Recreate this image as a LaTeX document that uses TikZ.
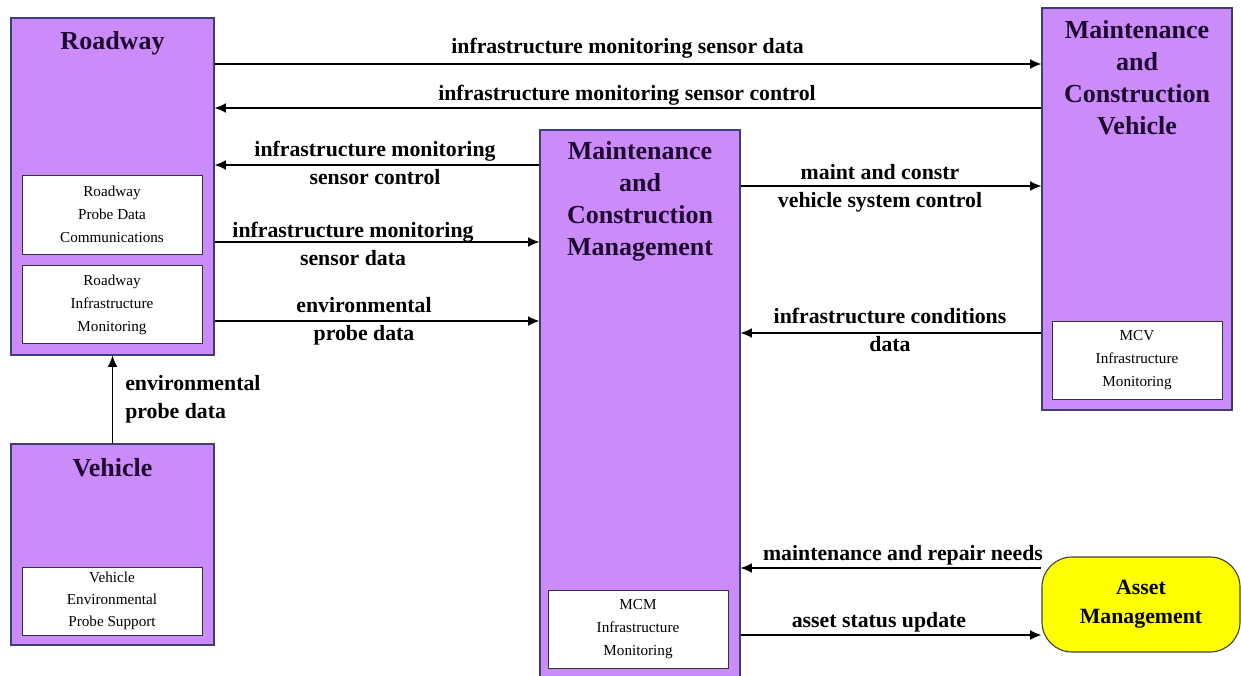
\documentclass[tikz,border=0pt]{standalone}
\usepackage{fontspec}
\setmainfont{Liberation Serif}
\usepackage{xcolor}
\usepackage{tikz}
\usetikzlibrary{arrows.meta,positioning,calc}
\definecolor{purplebg}{HTML}{CB8CFA}
\definecolor{purpleln}{HTML}{3C3C78}
\definecolor{titletx}{HTML}{1E0530}
\definecolor{assetbg}{HTML}{FFFF00}
\tikzset{
  sys/.style   = {draw=purpleln, fill=purplebg, line width=0.8pt, inner sep=0pt},
  sub/.style   = {draw=black!80, fill=white, line width=0.6pt, align=center, inner sep=0pt,
                  minimum width=4.5cm, font=\fontsize{10.8}{16.3}\selectfont},
  ttl/.style   = {align=center, text=titletx, inner sep=0pt,
                  font=\bfseries\fontsize{18.5}{22.7}\selectfont},
  ar/.style    = {-{Latex[length=2.8mm,width=2.4mm]}, line width=0.8pt},
  lbl/.style   = {align=center, inner sep=0pt, font=\bfseries\fontsize{15.5}{19.8}\selectfont},
}
\begin{document}
\begin{tikzpicture}
  \useasboundingbox (0,0) rectangle (31.025,-16.875);
  % systems
  \node[sys, minimum width=5.075cm, minimum height=8.425cm] (rw) at (2.8125,-4.6625) {};
  \node[sys, minimum width=5.075cm, minimum height=5.025cm] (veh) at (2.8125,-13.6125) {};
  \node[sys, minimum width=5cm, minimum height=13.8cm] (mcm) at (16,-10.15) {};
  \node[sys, minimum width=4.75cm, minimum height=10.05cm] (mcv) at (28.425,-5.225) {};
  \node[draw=black!75, fill=assetbg, line width=0.8pt, rounded corners=0.75cm,
        minimum width=4.95cm, minimum height=2.375cm, align=center,
        font=\bfseries\fontsize{15.5}{20.6}\selectfont] (am) at (28.525,-15.1125) {Asset\\Management};
  \node[ttl] (rwT) at (2.8125,-1.075) {Roadway};
  \node[ttl] (vehT) at (2.8125,-11.7) {Vehicle};
  \node[ttl] (mcmT) at (16,-5.03) {Maintenance\\and\\Construction\\Management};
  \node[ttl] (mcvT) at (28.425,-1.94) {Maintenance\\and\\Construction\\Vehicle};
  % functional objects
  \node[sub, minimum height=1.975cm] (rwPdc) at (2.8,-5.3625) {Roadway\\Probe Data\\Communications};
  \node[sub, minimum height=1.95cm, below=0.275cm of rwPdc] (rwIm) {Roadway\\Infrastructure\\Monitoring};
  \node[sub, minimum height=1.7cm, font=\fontsize{10.8}{15.8}\selectfont] (vehEps) at (2.8,-15.025) {Vehicle\\Environmental\\Probe Support};
  \node[sub, minimum height=1.95cm] (mcmIm) at (15.95,-15.725) {MCM\\Infrastructure\\Monitoring};
  \node[sub, minimum width=4.25cm, minimum height=1.95cm] (mcvIm) at (28.425,-9.0) {MCV\\Infrastructure\\Monitoring};
  % flows
  \draw[ar] (rw.east |- 0,-1.6) -- (mcv.west |- 0,-1.6);
  \draw[ar] (mcv.west |- 0,-2.7) -- (rw.east |- 0,-2.7);
  \draw[ar] (mcm.west |- 0,-4.125) -- (rw.east |- 0,-4.125);
  \draw[ar] (rw.east |- 0,-6.05) -- (mcm.west |- 0,-6.05);
  \draw[ar] (rw.east |- 0,-8.025) -- (mcm.west |- 0,-8.025);
  \draw[ar] (mcm.east |- 0,-4.65) -- (mcv.west |- 0,-4.65);
  \draw[ar] (mcv.west |- 0,-8.325) -- (mcm.east |- 0,-8.325);
  \draw[ar] (am.west |- 0,-14.2) -- (mcm.east |- 0,-14.2);
  \draw[ar] (mcm.east |- 0,-15.875) -- (am.west |- 0,-15.875);
  \draw[ar] (veh.north) -- (rw.south);
  \node[lbl] (l1) at (15.69,-1.2) {infrastructure monitoring sensor data};
  \node[lbl] (l2) at (15.675,-2.375) {infrastructure monitoring sensor control};
  \node[lbl] (l3) at (9.375,-4.075) {infrastructure monitoring\\sensor control};
  \node[lbl] (l4) at (8.825,-6.1) {infrastructure monitoring\\sensor data};
  \node[lbl] (l5) at (9.1,-8.04) {environmental\\probe data};
  \node[lbl] (l6) at (22.0,-4.7) {maint and constr\\vehicle system control};
  \node[lbl] (l7) at (22.25,-8.25) {infrastructure conditions\\data};
  \node[lbl] (l8) at (22.575,-13.875) {maintenance and repair needs};
  \node[lbl] (l9) at (21.975,-15.55) {asset status update};
  \node[lbl, align=left, anchor=west] (l10) at (3.125,-9.975) {environmental\\probe data};
\end{tikzpicture}
\end{document}
